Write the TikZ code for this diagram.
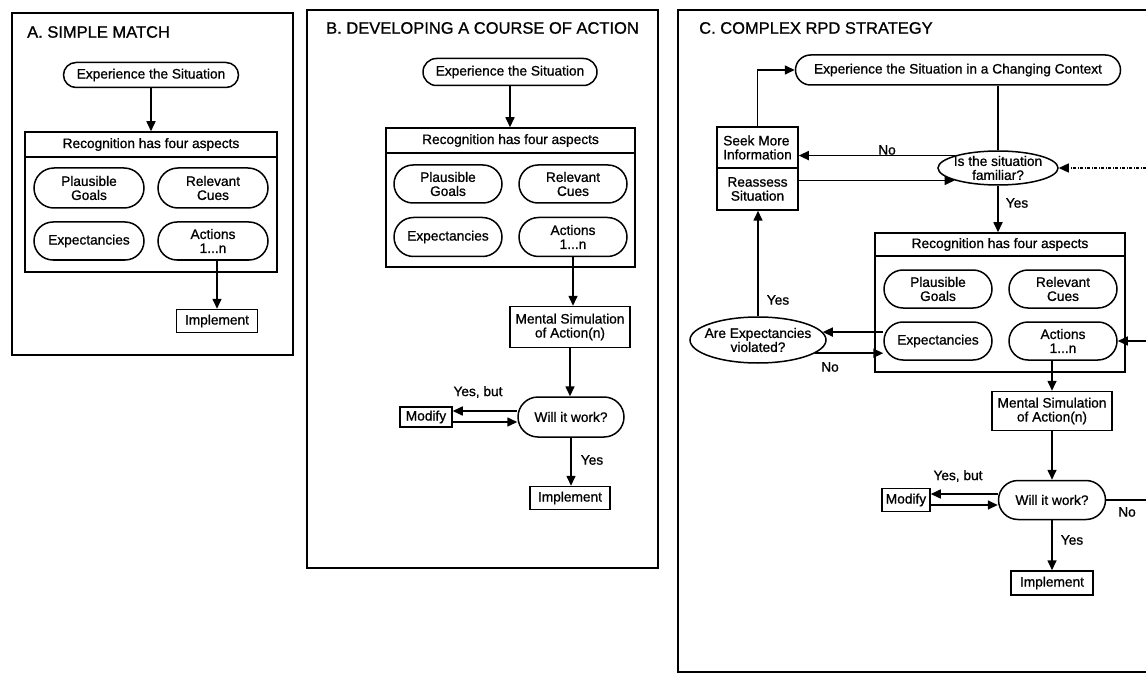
\documentclass[tikz,border=0pt]{standalone}
\usepackage{fontspec}
\setmainfont{Liberation Sans}
\newfontfamily\diagfont{Liberation Sans}[FakeBold=0.9]
\usetikzlibrary{arrows.meta,shapes.geometric,shapes.misc}

\tikzset{
  body/.style={font=\diagfont\fontsize{13.7}{14}\selectfont},
  frame/.style={draw, line width=1.4pt},
  ptitle/.style={font=\diagfont\fontsize{16.5}{18}\selectfont, anchor=west, inner sep=0pt},
  box/.style={draw, line width=1.5pt, body, align=center, inner sep=1pt},
  pill/.style={box, rounded rectangle},
  oval/.style={draw, line width=1.5pt, ellipse, inner sep=0pt},
  otext/.style={body, align=center, inner sep=0pt},
  lbl/.style={body, inner sep=1pt},
  arr/.style={line width=1.6pt, -{Triangle[length=10pt,width=9pt]}},
  link/.style={line width=1.6pt},
  dasharr/.style={line width=1.2pt, -{Triangle[length=10pt,width=9pt]}, dash pattern=on 3pt off 1.5pt on 1pt off 1.5pt},
}

\begin{document}
\begin{tikzpicture}[x=1pt,y=-1pt]
\fill[white] (0,0) rectangle (1146,679);
\useasboundingbox (0,0) rectangle (1146,679);

% ---------------- A. Simple match ----------------
\node[frame, minimum width=281pt, minimum height=342pt] (frA) at (152.5,184) {};
\node[ptitle] (tA) at (27,32) {A. SIMPLE MATCH};
\node[pill, minimum width=177pt, minimum height=25pt] (expA) at (151,75) {Experience the Situation};
\node[box, minimum width=252pt, minimum height=25pt] (recAh) at (151,144.5) {Recognition has four aspects};
\node[box, minimum width=252pt, minimum height=115pt] (recAb) at (151,214.5) {};
\node[pill, minimum width=112pt, minimum height=40pt] (pgA) at (89,188) {Plausible\\Goals};
\node[pill, minimum width=112pt, minimum height=40pt] (rcA) at (213,188) {Relevant\\Cues};
\node[pill, minimum width=112pt, minimum height=38pt] (exA) at (89,241) {Expectancies};
\node[pill, minimum width=112pt, minimum height=38pt] (acA) at (213,241) {Actions\\1...n};
\node[box, minimum width=81pt, minimum height=23pt] (impA) at (217,321) {Implement};
\draw[arr] (expA) -- (recAh);
\draw[arr] (acA.south -| impA.north) -- (impA.north);

% ---------------- B. Developing a course of action ----------------
\node[frame, minimum width=351pt, minimum height=558pt] (frB) at (482.5,289) {};
\node[ptitle] (tB) at (326,28) {B. DEVELOPING A COURSE OF ACTION};
\node[pill, minimum width=176pt, minimum height=27pt] (expB) at (510,72) {Experience the Situation};
\node[box, minimum width=249pt, minimum height=25pt] (recBh) at (510.5,140.5) {Recognition has four aspects};
\node[box, minimum width=249pt, minimum height=114pt] (recBb) at (510.5,210) {};
\node[pill, minimum width=110pt, minimum height=38pt] (pgB) at (448,184) {Plausible\\Goals};
\node[pill, minimum width=110pt, minimum height=38pt] (rcB) at (573,184) {Relevant\\Cues};
\node[pill, minimum width=110pt, minimum height=39pt] (exB) at (448,237) {Expectancies};
\node[pill, minimum width=110pt, minimum height=39pt] (acB) at (573,237) {Actions\\1...n};
\node[box, minimum width=120pt, minimum height=41pt] (msB) at (570,327) {Mental Simulation\\of Action(n)};
\node[pill, minimum width=108pt, minimum height=40pt] (wwB) at (571,417) {Will it work?};
\node[box, minimum width=52pt, minimum height=20pt] (modB) at (426,417) {Modify};
\node[box, minimum width=80pt, minimum height=23pt] (impB) at (570,498) {Implement};
\draw[arr] (expB.south) -- (expB.south |- recBh.north);
\draw[arr] (acB.south) -- (acB.south |- msB.north);
\draw[arr] (msB.south) -- (msB.south |- wwB.north);
\draw[arr] ([yshift=6pt]wwB.west) -- ([yshift=6pt]wwB.west -| modB.east);
\draw[arr] ([yshift=-5pt]modB.east) -- ([yshift=-5pt]modB.east -| wwB.west);
\draw[arr] (wwB.south) -- (wwB.south |- impB.north);
\node[lbl] (ybB) at (478,392) {Yes, but};
\node[lbl] (yB) at (592,460) {Yes};

% ---------------- C. Complex RPD strategy ----------------
\draw[frame] (1146,10) -- (678,10) -- (678,672) -- (1146,672);
\node[ptitle] (tC) at (699,28) {C. COMPLEX RPD STRATEGY};
\coordinate (eR1) at (1146,168);
\coordinate (eR2) at (1146,341);
\coordinate (eR3) at (1146,499);

\node[pill, minimum width=327pt, minimum height=30pt] (expC) at (958,70) {Experience the Situation in a Changing Context};
\node[oval, minimum width=120pt, minimum height=34pt] (famC) at (998,168) {};
\node[otext] (famCt) at (998,168) {Is the situation\\familiar?};
\node[box, minimum width=81pt, minimum height=41pt, align=left] (seekC) at (757.5,147.5) {Seek More\\Information};
\node[box, minimum width=81pt, minimum height=42pt] (reaC) at (757.5,189) {Reassess\\Situation};
\node[box, minimum width=250pt, minimum height=23pt] (recCh) at (1000,244.5) {Recognition has four aspects};
\node[box, minimum width=250pt, minimum height=116pt] (recCb) at (1000,314) {};
\node[pill, minimum width=110pt, minimum height=38pt] (pgC) at (938,289) {Plausible\\Goals};
\node[pill, minimum width=110pt, minimum height=38pt] (rcC) at (1063,289) {Relevant\\Cues};
\node[pill, minimum width=110pt, minimum height=38pt] (exC) at (938,341) {Expectancies};
\node[pill, minimum width=110pt, minimum height=38pt] (acC) at (1063,341) {Actions\\1...n};
\node[oval, minimum width=136pt, minimum height=46pt] (aevC) at (758,340) {};
\node[otext] (aevCt) at (758,340) {Are Expectancies\\violated?};
\node[box, minimum width=120pt, minimum height=39pt] (msC) at (1052,411) {Mental Simulation\\of Action(n)};
\node[pill, minimum width=109pt, minimum height=39pt] (wwC) at (1052,500) {Will it work?};
\node[box, minimum width=48pt, minimum height=23pt] (modC) at (906,500) {Modify};
\node[box, minimum width=82pt, minimum height=24pt] (impC) at (1052,583) {Implement};

\draw[link] (famC.north |- expC.south) -- (famC.north);
\draw[arr] (famC.164) -- (famC.164 -| seekC.east);
\draw[arr] (reaC.east |- famC.196) -- (famC.196);
\draw[arr] (seekC.north) -- (seekC.north |- expC.west) -- (expC.west);
\draw[dasharr] (eR1) -- (famC.east);
\draw[arr] (famC.south) -- (famC.south |- recCh.north);
\draw[arr] (aevC.7 -| exC.west) -- (aevC.7);
\draw[arr] (aevC.-13) -- (aevC.-13 -| exC.west);
\draw[arr] (aevC.north) -- (aevC.north |- reaC.south);
\draw[arr] (eR2) -- (acC.east);
\draw[arr] (msC.north |- acC.south) -- (msC.north);
\draw[arr] (msC.south) -- (msC.south |- wwC.north);
\draw[arr] ([yshift=6pt]wwC.west) -- ([yshift=6pt]wwC.west -| modC.east);
\draw[arr] ([yshift=-5pt]modC.east) -- ([yshift=-5pt]modC.east -| wwC.west);
\draw[link] (wwC.east) -- (wwC.east -| eR3);
\draw[arr] (wwC.south) -- (wwC.south |- impC.north);

\node[lbl] (noC1) at (887,150) {No};
\node[lbl] (yC1) at (1017,203) {Yes};
\node[lbl] (yC2) at (778,300) {Yes};
\node[lbl] (noC2) at (830,367) {No};
\node[lbl] (ybC) at (958,476) {Yes, but};
\node[lbl] (noC3) at (1127,512) {No};
\node[lbl] (yC3) at (1072,540) {Yes};
\end{tikzpicture}
\end{document}
